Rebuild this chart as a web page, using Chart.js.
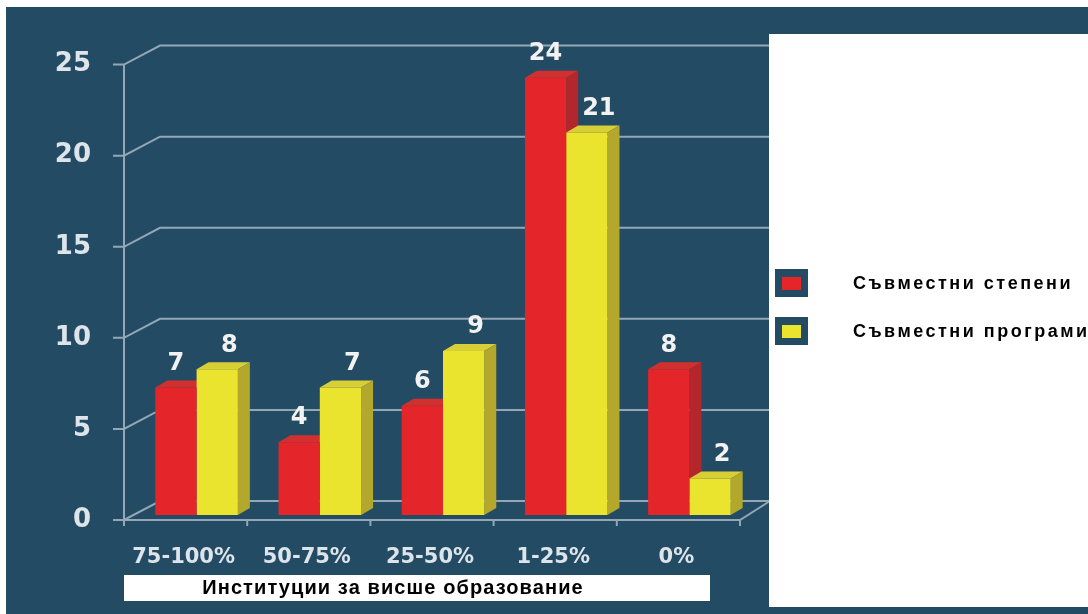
<!DOCTYPE html>
<html>
<head>
<meta charset="utf-8">
<script src="https://cdn.jsdelivr.net/npm/chart.js@4.4.1/dist/chart.umd.min.js"></script>
<style>
  html, body { margin: 0; padding: 0; background: #fff; }
  canvas { display: block; }
</style>
</head>
<body>
<canvas id="chart" width="1088" height="614"></canvas>
<script>
// --- data ---
const categories = ['75-100%', '50-75%', '25-50%', '1-25%', '0%'];
const jointDegrees = [7, 4, 6, 24, 8];
const jointPrograms = [8, 7, 9, 21, 2];
const seriesNames = ['Съвместни степени', 'Съвместни програми'];
const yMin = 0, yMax = 25, yStep = 5;
const axisTitle = 'Институции за висше образование';

// --- look ---
const BG = '#244b64';
const GRID = '#93a7b6';
const TICK_COLOR = '#dde4ea';
const faces = [
    { front: '#e4262a', side: '#b3262c', top: '#d2302e' },
    { front: '#ebe42e', side: '#b3a82c', top: '#d8cf36' }
];
const depth = { dx: 12, dy: 7 };   // bar depth
const wall = { dx: 36, dy: 19 };   // back wall offset from front axis
const front = { dx: -11, dy: 5 };  // front axis plane vs bar plane
const labelShift = [0, 12];

const scene3d = {
    id: 'scene3d',
    beforeDraw(chart) {
        const { ctx, chartArea } = chart;
        const y = chart.scales.y;
        ctx.save();
        ctx.fillStyle = '#ffffff';
        ctx.fillRect(0, 0, chart.width, chart.height);
        ctx.fillStyle = BG;
        ctx.fillRect(6, 7, chart.width - 6, chart.height - 7);

        const fx0 = chartArea.left + front.dx;
        const fx1 = chartArea.right + front.dx;
        const backRight = fx1 + 30;
        ctx.strokeStyle = GRID;
        ctx.lineWidth = 2;

        // wall gridlines with the bend at the front axis
        y.ticks.forEach(t => {
            const py = y.getPixelForValue(t.value) + front.dy;
            ctx.beginPath();
            ctx.moveTo(fx0 - 11, py);
            ctx.lineTo(fx0, py);
            ctx.lineTo(fx0 + wall.dx, py - wall.dy);
            ctx.lineTo(backRight, py - wall.dy);
            ctx.stroke();
        });

        // front vertical axis
        const yTop = y.getPixelForValue(yMax) + front.dy;
        const y0 = y.getPixelForValue(yMin) + front.dy;
        ctx.beginPath();
        ctx.moveTo(fx0, yTop);
        ctx.lineTo(fx0, y0);
        ctx.stroke();

        // floor front edge + right edge
        ctx.beginPath();
        ctx.moveTo(fx0, y0);
        ctx.lineTo(fx1, y0);
        ctx.lineTo(backRight, y0 - wall.dy);
        ctx.stroke();

        // category ticks on the floor
        for (let i = 0; i <= categories.length; i++) {
            const px = fx0 + i * (fx1 - fx0) / categories.length;
            ctx.beginPath();
            ctx.moveTo(px, y0);
            ctx.lineTo(px, y0 + 6);
            ctx.stroke();
        }
        ctx.restore();
    },
    beforeDatasetsDraw(chart) {
        const { ctx } = chart;
        ctx.save();
        chart.data.labels.forEach((_, i) => {
            chart.data.datasets.forEach((ds, d) => {
                const bar = chart.getDatasetMeta(d).data[i];
                const l = bar.x - bar.width / 2, r = bar.x + bar.width / 2;
                const t = bar.y, b = bar.base;
                // top face
                ctx.fillStyle = faces[d].top;
                ctx.beginPath();
                ctx.moveTo(l, t);
                ctx.lineTo(l + depth.dx, t - depth.dy);
                ctx.lineTo(r + depth.dx, t - depth.dy);
                ctx.lineTo(r, t);
                ctx.closePath();
                ctx.fill();
                // side face
                ctx.fillStyle = faces[d].side;
                ctx.beginPath();
                ctx.moveTo(r, t);
                ctx.lineTo(r + depth.dx, t - depth.dy);
                ctx.lineTo(r + depth.dx, b - depth.dy);
                ctx.lineTo(r, b);
                ctx.closePath();
                ctx.fill();
            });
        });
        ctx.restore();
    },
    afterDatasetsDraw(chart) {
        const { ctx } = chart;
        ctx.save();
        ctx.font = 'bold 24px "DejaVu Sans"';
        ctx.fillStyle = '#f2f2f2';
        ctx.textAlign = 'center';
        ctx.textBaseline = 'middle';
        chart.data.datasets.forEach((ds, d) => {
            chart.getDatasetMeta(d).data.forEach((bar, i) => {
                ctx.fillText(String(ds.data[i]), bar.x + labelShift[d], bar.y - 24);
            });
        });
        ctx.restore();
    },
    afterDraw(chart) {
        const { ctx } = chart;
        ctx.save();
        // legend panel
        ctx.fillStyle = '#ffffff';
        ctx.fillRect(769, 34, chart.width - 769, 573);
        const rows = [284, 332];
        chart.data.datasets.forEach((ds, d) => {
            const cy = rows[d];
            ctx.fillStyle = BG;
            ctx.fillRect(775, cy - 15, 33, 28);
            ctx.fillStyle = faces[d].front;
            ctx.fillRect(782, cy - 7, 19, 13);
            ctx.fillStyle = '#000000';
            ctx.font = 'bold 18px "Liberation Sans"';
            ctx.letterSpacing = '2.5px';
            ctx.textAlign = 'left';
            ctx.textBaseline = 'middle';
            ctx.fillText(ds.label, 853, cy);
        });
        // x axis title box
        ctx.fillStyle = '#ffffff';
        ctx.fillRect(124, 575, 586, 26);
        ctx.fillStyle = '#000000';
        ctx.font = 'bold 20px "Liberation Sans"';
        ctx.letterSpacing = '1.1px';
        ctx.textAlign = 'center';
        ctx.textBaseline = 'middle';
        ctx.fillText(axisTitle, 393, 588);
        ctx.restore();
    }
};

new Chart(document.getElementById('chart'), {
    type: 'bar',
    data: {
        labels: categories,
        datasets: [
            { label: seriesNames[0], data: jointDegrees, backgroundColor: faces[0].front },
            { label: seriesNames[1], data: jointPrograms, backgroundColor: faces[1].front }
        ]
    },
    options: {
        responsive: false,
        animation: false,
        layout: { padding: { left: 0, top: 56, right: 337, bottom: 29 } },
        datasets: { bar: { barPercentage: 1, categoryPercentage: 0.67 } },
        scales: {
            x: {
                grid: { display: false, drawTicks: false },
                border: { display: false },
                ticks: {
                    color: TICK_COLOR,
                    font: { family: 'DejaVu Sans', weight: 'bold', size: 21 },
                    padding: 30,
                    labelOffset: -13,
                    maxRotation: 0
                },
                afterFit(scale) { scale.height = 70; }
            },
            y: {
                min: yMin, max: yMax,
                grid: { display: false, drawTicks: false },
                border: { display: false },
                ticks: {
                    stepSize: yStep,
                    color: TICK_COLOR,
                    font: { family: 'DejaVu Sans', weight: 'bold', size: 26 },
                    padding: 44,
                    labelOffset: 5
                },
                afterFit(scale) { scale.width = 135; }
            }
        },
        plugins: {
            legend: { display: false },
            tooltip: { enabled: false }
        }
    },
    plugins: [scene3d]
});
</script>
</body>
</html>
